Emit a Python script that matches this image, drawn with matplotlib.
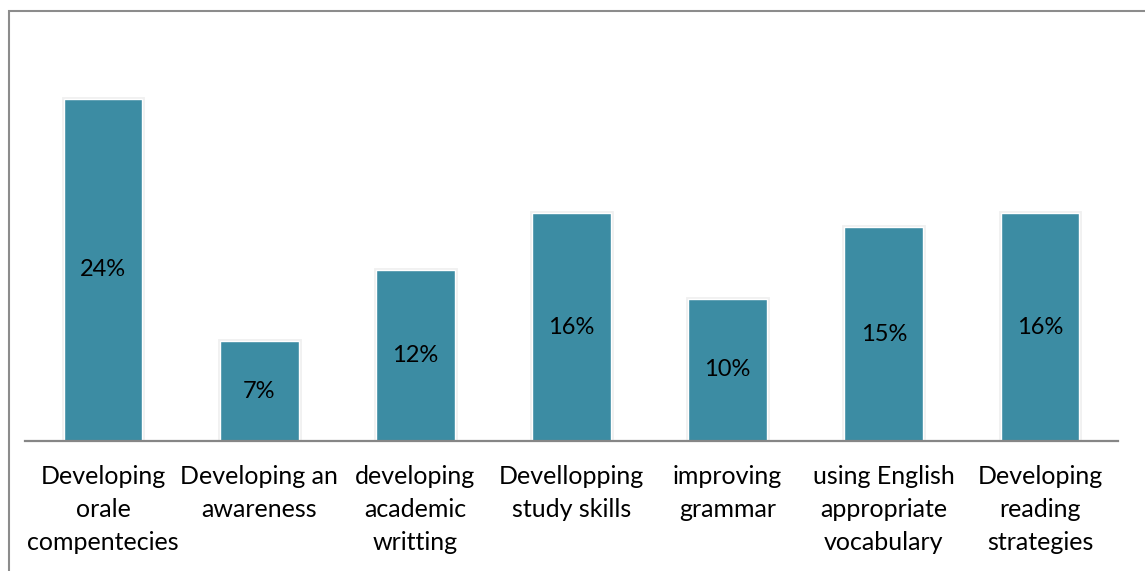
import matplotlib.pyplot as plt
import matplotlib.patheffects as pe
from matplotlib.patches import Rectangle

categories = [
    "Developing\norale\ncompentecies",
    "Developing an\nawareness",
    "developing\nacademic\nwritting",
    "Devellopping\nstudy skills",
    "improving\ngrammar",
    "using English\nappropriate\nvocabulary",
    "Developing\nreading\nstrategies",
]
values = [24, 7, 12, 16, 10, 15, 16]

plt.rcParams['font.family'] = ['Lato', 'DejaVu Sans']

fig = plt.figure(figsize=(11.45, 5.71), dpi=100)
W, H = 1145, 571
ax = fig.add_axes([25 / W, (H - 441) / H, (1118 - 25) / W, (441 - 13.5) / H])

x = range(len(values))
bars = ax.bar(x, values, width=0.505, color='#3C8CA3', edgecolor='white',
              linewidth=1.0, zorder=3)
for b in bars:
    b.set_path_effects([
        pe.Stroke(linewidth=3.5, foreground='#e2e2e2', alpha=0.5),
        pe.Normal(),
    ])

for xi, v in zip(x, values):
    ax.text(xi, v / 2, f"{v}%", ha='center', va='center', fontsize=17,
            color='black', zorder=4)

ax.set_xlim(-0.5, len(values) - 0.5)
ax.set_ylim(0, 30)
ax.set_yticks([])
ax.set_xticks(list(x))
ax.set_xticklabels(categories, fontsize=18, linespacing=1.53)
ax.tick_params(axis='x', length=0, pad=17)
for side in ['top', 'right', 'left']:
    ax.spines[side].set_visible(False)
ax.spines['bottom'].set_color('#868686')
ax.spines['bottom'].set_linewidth(1.6)
ax.spines['bottom'].set_zorder(5)

# outer frame, running off the right and bottom edges
fig.patches.append(Rectangle((9 / W, -0.1), 1.2, 1.1 - 11 / H,
                             transform=fig.transFigure, fill=False,
                             edgecolor='#8c8c8c', linewidth=1.5))

fig.savefig("out.png", dpi=100)
